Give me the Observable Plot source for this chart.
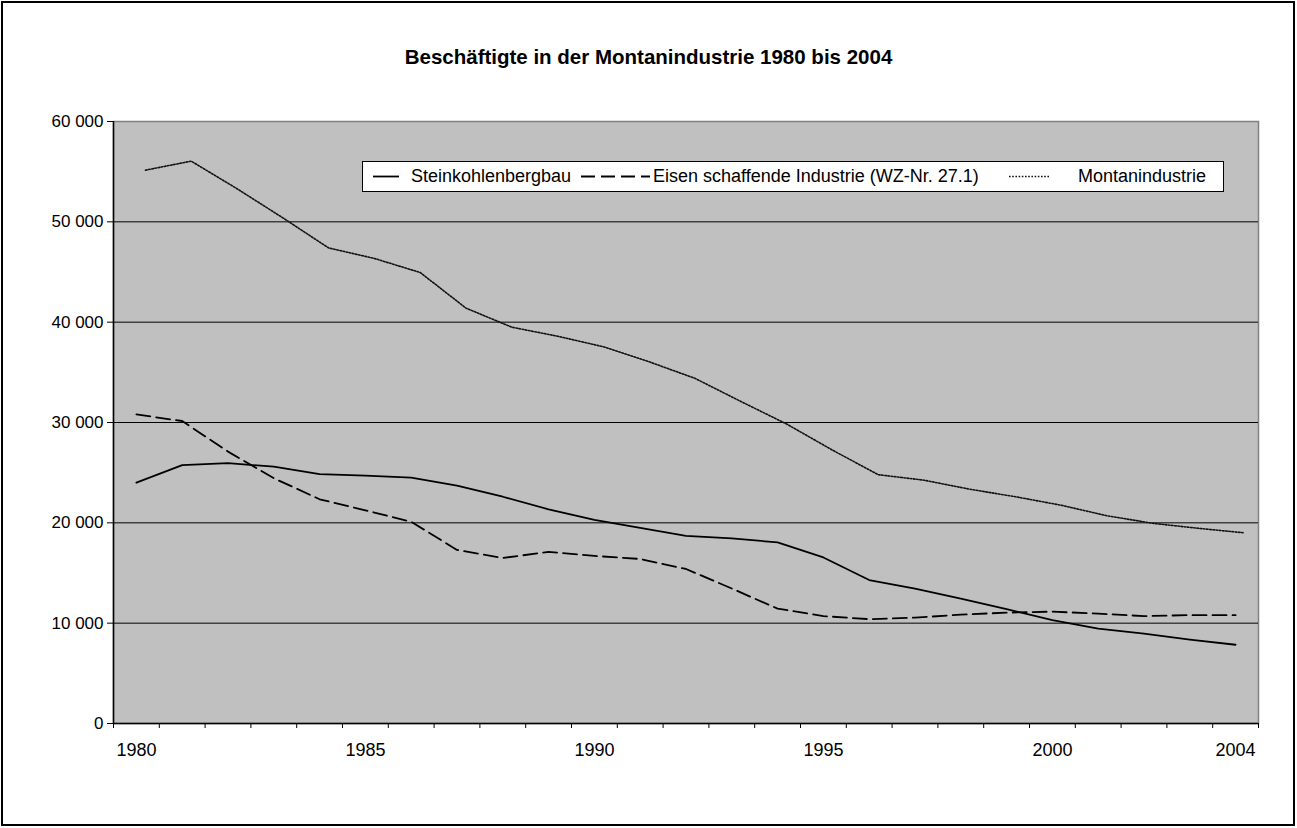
<!DOCTYPE html>
<html>
<head>
<meta charset="utf-8">
<script src="https://cdn.jsdelivr.net/npm/d3@7"></script>
<script src="https://cdn.jsdelivr.net/npm/@observablehq/plot@0.6"></script>
<style>
  body { margin: 0; background: #fff; font-family: "Liberation Sans", Arial, sans-serif; }
  #chart { position: relative; width: 1297px; height: 828px; }
  #frame { position: absolute; left: 1px; top: 1px; width: 1294px; height: 825px; box-sizing: border-box; border: 2px solid #000; }
  #title { position: absolute; left: 0; top: 45px; width: 1297px; text-align: center; font-weight: bold; font-size: 20.5px; line-height: 24px; color: #000; }
  #plot { position: absolute; left: 0; top: 100px; }
  #legend { position: absolute; left: 362px; top: 161px; width: 862px; height: 31px; box-sizing: border-box; border: 1px solid #000; background: #fff; }
  #legend span { position: absolute; top: 4px; font-size: 18px; line-height: 20px; white-space: nowrap; color: #000; }
  #legend svg { position: absolute; top: 0; }
</style>
</head>
<body>
<div id="chart">
  <div id="frame"></div>
  <div id="title">Beschäftigte in der Montanindustrie 1980 bis 2004</div>
  <div id="plot"></div>
  <div id="legend"></div>
</div>
<script>
const years = [1980, 1981, 1982, 1983, 1984, 1985, 1986, 1987, 1988, 1989, 1990, 1991, 1992,
               1993, 1994, 1995, 1996, 1997, 1998, 1999, 2000, 2001, 2002, 2003, 2004];
const steinkohle = [24000, 25750, 25950, 25600, 24850, 24700, 24500, 23700, 22600, 21350, 20300, 19500, 18700,
                    18450, 18050, 16550, 14300, 13450, 12450, 11400, 10300, 9450, 8950, 8350, 7850];
const eisen = [30800, 30150, 27100, 24450, 22350, 21250, 20100, 17300, 16500, 17100, 16700, 16400, 15400,
               13450, 11450, 10700, 10400, 10550, 10850, 11050, 11150, 10950, 10700, 10800, 10800];
const montan = [55150, 56050, 53300, 50400, 47400, 46350, 44950, 41400, 39500, 38600, 37550, 36050, 34400,
                32100, 29850, 27250, 24800, 24250, 23350, 22600, 21750, 20700, 19950, 19450, 19000];
const seriesNames = ["Steinkohlenbergbau", "Eisen schaffende Industrie (WZ-Nr. 27.1)", "Montanindustrie"];
const xLabelYears = [1980, 1985, 1990, 1995, 2000, 2004];
const yTicks = [0, 10000, 20000, 30000, 40000, 50000, 60000];

const rows = years.map((year, i) => ({year, stein: steinkohle[i], eisen: eisen[i], montan: montan[i]}));
const boundaries = years.map(y => y - 0.5).concat([years[years.length - 1] + 0.5]);
const fmt = d => d === 0 ? "0" : d3.format(",")(d).replace(/,/g, "\u00a0");

const chart = Plot.plot({
  width: 1297,
  height: 700,
  marginLeft: 113,
  marginRight: 39,
  marginTop: 21,
  marginBottom: 77,
  x: {type: "linear", domain: [boundaries[0], boundaries[boundaries.length - 1]]},
  y: {domain: [0, 60000]},
  style: {fontFamily: "'Liberation Sans', Arial, sans-serif", fontSize: "18px", color: "#000", background: "transparent", overflow: "visible"},
  marks: [
    Plot.frame({fill: "#C0C0C0", stroke: "#808080", strokeWidth: 1.5}),
    Plot.gridY(yTicks.filter(t => t > 0 && t < 60000), {stroke: "#000", strokeOpacity: 1, strokeWidth: 1}),
    Plot.ruleX([boundaries[0]], {stroke: "#000", strokeWidth: 1.5}),
    Plot.ruleY([0], {stroke: "#000", strokeWidth: 1.5}),
    Plot.axisY(yTicks, {tickSize: 6, tickPadding: 4, tickFormat: fmt, label: null, stroke: "#000", fontSize: 17}),
    Plot.axisX(boundaries, {tickSize: 5, tickFormat: () => "", label: null, stroke: "#000"}),
    Plot.axisX(xLabelYears, {tickSize: 0, tickPadding: 20, tickFormat: d => String(d), label: null}),
    Plot.line(rows, {x: "year", y: "montan", stroke: "#111", strokeWidth: 1.6, strokeDasharray: "1.6,1.6", dx: 9}),
    Plot.line(rows, {x: "year", y: "eisen", stroke: "#000", strokeWidth: 1.8, strokeDasharray: "14,6"}),
    Plot.line(rows, {x: "year", y: "stein", stroke: "#000", strokeWidth: 1.8})
  ]
});
document.getElementById("plot").appendChild(chart);

// Legend
const legend = document.getElementById("legend");
const items = [
  {name: seriesNames[0], x1: 10, x2: 36, text: 48, dash: null, w: 1.8, c: "#000"},
  {name: seriesNames[1], x1: 218, x2: 287, text: 290, dash: "14,6", w: 1.8, c: "#000"},
  {name: seriesNames[2], x1: 646, x2: 686, text: 715, dash: "1.6,1.6", w: 1.6, c: "#111"}
];
const ns = "http://www.w3.org/2000/svg";
for (const it of items) {
  const svg = document.createElementNS(ns, "svg");
  svg.setAttribute("width", it.x2 - it.x1);
  svg.setAttribute("height", 29);
  svg.style.left = it.x1 + "px";
  const ln = document.createElementNS(ns, "line");
  ln.setAttribute("x1", 0); ln.setAttribute("x2", it.x2 - it.x1);
  ln.setAttribute("y1", 14.5); ln.setAttribute("y2", 14.5);
  ln.setAttribute("stroke", it.c);
  ln.setAttribute("stroke-width", it.w);
  if (it.dash) ln.setAttribute("stroke-dasharray", it.dash);
  svg.appendChild(ln);
  legend.appendChild(svg);
  const sp = document.createElement("span");
  sp.textContent = it.name;
  sp.style.left = it.text + "px";
  legend.appendChild(sp);
}
</script>
</body>
</html>
